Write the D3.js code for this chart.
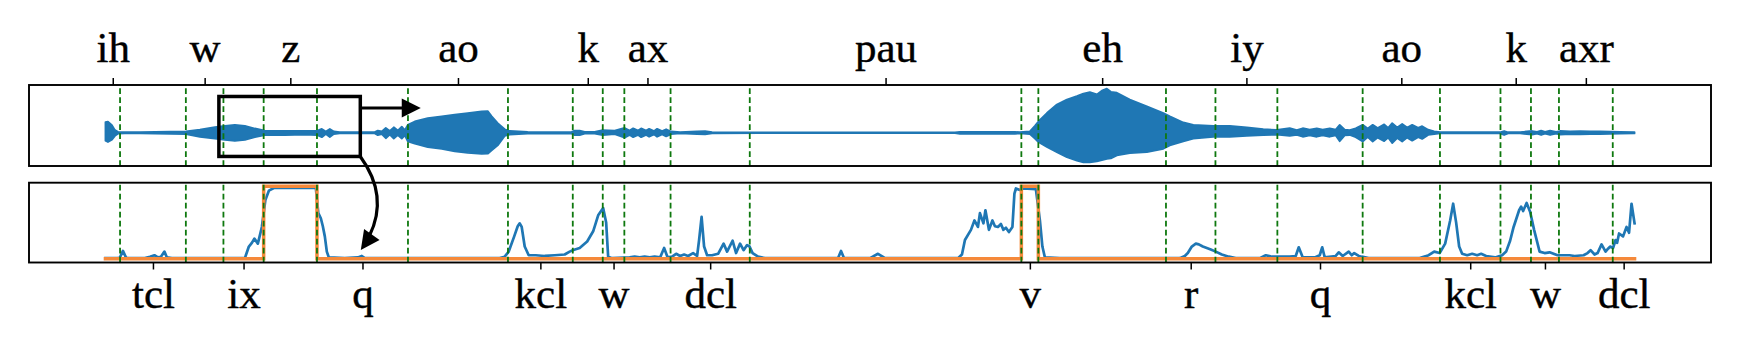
<!DOCTYPE html>
<html>
<head>
<meta charset="utf-8">
<script src="https://d3js.org/d3.v7.min.js"></script>
<style>
  body { margin: 0; background: #fff; }
  svg { display: block; }
</style>
</head>
<body>
<script>
'use strict';

//phone segments, in frames
var phones = ['ih', 'tcl', 'w', 'ix', 'z', 'q', 'ao', 'kcl', 'k', 'w', 'ax', 'dcl',
  'pau', 'v', 'eh', 'r', 'iy', 'q', 'ao', 'kcl', 'k', 'w', 'axr', 'dcl'];
var edges = [0, 2.92, 16.09, 23.61, 31.66, 42.33, 60.54, 80.55, 93.52, 99.52, 103.84,
  113.09, 128.94, 183.29, 186.69, 212.23, 222.13, 234.52, 251.59, 267.06, 279.17,
  285.27, 290.87, 301.64, 306];
var target = [0, 0, 0, 0, 1, 0, 0, 0, 0, 0, 0, 0, 0, 1, 0, 0, 0, 0, 0, 0, 0, 0, 0, 0];

//waveform envelope (upper / lower amplitude)
var wavFrames = [0, 0.5, 1.3, 1.9, 2.5, 3.9, 6.9, 16.1, 18.9, 21.9,
  23.9, 25.9, 27.9, 29.9, 31.9, 35.9, 39.9, 42.3, 43.3, 44.1,
  44.9, 45.7, 46.9, 53.9, 54.5, 55.3, 56.1, 56.9, 57.7, 58.5,
  59.3, 59.9, 60.5, 61.9, 64.5, 67.3, 69.9, 72.5, 75.3, 76.5,
  77.3, 78.5, 79.9, 80.9, 84.5, 90.9, 93.3, 93.9, 94.9, 95.9,
  97.9, 99.5, 101.9, 103.9, 104.9, 105.6, 106.6, 107.2, 108.2, 108.8,
  109.8, 110.4, 111.4, 112.2, 113.2, 115.0, 118.4, 120.0, 121.4, 131.0,
  170.0, 171.0, 182.0, 183.0, 185.0, 186.0, 186.7, 188.4, 190.4, 192.4,
  194.4, 195.7, 197.0, 198.4, 199.4, 200.4, 201.2, 202.4, 205.0, 208.4,
  211.7, 213.0, 215.7, 217.7, 221.7, 225.0, 228.4, 231.7, 234.4, 237.0,
  238.4, 239.6, 241.0, 242.4, 243.6, 245.0, 246.2, 247.0, 248.0, 249.0,
  250.2, 251.6, 252.6, 253.6, 254.6, 255.9, 256.7, 257.5, 258.5, 259.5,
  260.5, 261.5, 262.7, 263.5, 264.7, 265.9, 267.1, 279.1, 279.9, 280.7,
  283.1, 285.5, 286.5, 287.3, 288.1, 289.1, 290.3, 291.1, 293.1, 295.1,
  297.1, 299.1, 301.1, 303.1, 306];
var wavHi = [0.24, 0.253, 0.17, 0.06, 0.02, 0.015, 0.012, 0.03, 0.07, 0.13,
  0.156, 0.18, 0.156, 0.097, 0.05, 0.045, 0.04, 0.045, 0.087, 0.03,
  0.087, 0.03, 0.015, 0.015, 0.05, 0.03, 0.11, 0.04, 0.124, 0.05,
  0.14, 0.06, 0.18, 0.257, 0.333, 0.372, 0.41, 0.448, 0.487, 0.49,
  0.372, 0.218, 0.08, 0.04, 0.02, 0.015, 0.02, 0.05, 0.05, 0.02,
  0.02, 0.06, 0.05, 0.11, 0.05, 0.1, 0.05, 0.1, 0.05, 0.09,
  0.04, 0.09, 0.04, 0.08, 0.03, 0.015, 0.03, 0.035, 0.015, 0.01,
  0.01, 0.022, 0.022, 0.012, 0.03, 0.156, 0.257, 0.448, 0.64, 0.754,
  0.832, 0.89, 0.92, 0.87, 0.955, 1.0, 0.93, 0.908, 0.754, 0.602,
  0.448, 0.372, 0.234, 0.18, 0.156, 0.156, 0.12, 0.08, 0.064, 0.103,
  0.06, 0.103, 0.07, 0.1, 0.07, 0.1, 0.07, 0.18, 0.07, 0.06,
  0.1, 0.18, 0.1, 0.18, 0.11, 0.19, 0.11, 0.218, 0.12, 0.2,
  0.12, 0.18, 0.11, 0.15, 0.07, 0.03, 0.012, 0.012, 0.04, 0.012,
  0.015, 0.04, 0.02, 0.05, 0.02, 0.05, 0.02, 0.04, 0.03, 0.035,
  0.03, 0.03, 0.025, 0.02, 0.015];
var wavLo = [-0.18, -0.21, -0.16, -0.07, -0.02, -0.015, -0.012, -0.03, -0.09, -0.13,
  -0.163, -0.186, -0.163, -0.10, -0.055, -0.05, -0.04, -0.05, -0.10, -0.03,
  -0.095, -0.03, -0.015, -0.015, -0.055, -0.03, -0.124, -0.04, -0.13, -0.05,
  -0.133, -0.06, -0.193, -0.248, -0.324, -0.363, -0.423, -0.455, -0.478, -0.475,
  -0.4, -0.285, -0.07, -0.04, -0.02, -0.015, -0.02, -0.055, -0.055, -0.02,
  -0.02, -0.055, -0.03, -0.11, -0.05, -0.1, -0.05, -0.1, -0.05, -0.09,
  -0.04, -0.09, -0.04, -0.08, -0.03, -0.015, -0.03, -0.035, -0.015, -0.01,
  -0.01, -0.022, -0.022, -0.012, -0.03, -0.133, -0.21, -0.324, -0.44, -0.554,
  -0.63, -0.67, -0.67, -0.65, -0.62, -0.593, -0.58, -0.515, -0.462, -0.44,
  -0.363, -0.285, -0.193, -0.133, -0.094, -0.094, -0.07, -0.055, -0.04, -0.07,
  -0.05, -0.09, -0.06, -0.09, -0.06, -0.09, -0.06, -0.193, -0.06, -0.05,
  -0.1, -0.2, -0.1, -0.2, -0.11, -0.19, -0.11, -0.232, -0.12, -0.2,
  -0.11, -0.18, -0.1, -0.14, -0.05, -0.03, -0.012, -0.012, -0.05, -0.012,
  -0.015, -0.04, -0.02, -0.05, -0.02, -0.05, -0.02, -0.04, -0.03, -0.035,
  -0.03, -0.03, -0.025, -0.02, -0.015];

//attention curve
var attFrames = [0, 2.5, 2.9, 3.5, 4.1, 4.5, 7.9, 8.9, 9.8, 10.5,
  11.1, 11.8, 12.3, 13.3, 27.9, 28.7, 29.3, 29.8, 30.5, 31.3,
  32.0, 32.7, 33.8, 42.1, 42.6, 43.1, 43.5, 43.9, 44.3, 44.7,
  47.9, 50.5, 51.3, 51.9, 78.9, 79.9, 80.7, 81.8, 82.5, 82.9,
  83.3, 83.9, 84.7, 86.1, 87.9, 89.9, 91.9, 92.9, 93.5, 94.9,
  96.4, 97.6, 98.6, 99.6, 100.2, 100.6, 101.4, 104.9, 105.9, 106.9,
  107.9, 108.9, 109.9, 111.0, 111.8, 112.5, 113.4, 114.2, 115.0, 115.8,
  116.6, 117.6, 118.4, 118.8, 119.3, 119.8, 120.4, 121.4, 122.6, 123.7,
  124.4, 125.5, 126.2, 127.0, 127.7, 128.4, 128.9, 129.5, 130.6, 132.0,
  146.6, 147.2, 147.8, 153.0, 154.6, 156.0, 170.6, 171.4, 172.0, 173.2,
  173.9, 174.6, 175.0, 175.7, 176.1, 176.8, 177.5, 178.0, 178.6, 179.2,
  179.7, 180.2, 180.8, 181.5, 181.9, 182.2, 183.0, 183.7, 186.2, 187.0,
  187.5, 188.0, 191.0, 215.0, 216.0, 216.6, 217.4, 218.2, 218.8, 219.6,
  220.4, 221.2, 222.2, 223.4, 224.8, 226.2, 231.0, 232.2, 233.4, 235.2,
  237.0, 238.2, 238.8, 239.6, 242.0, 243.0, 243.5, 244.0, 246.2, 246.8,
  247.6, 248.8, 249.4, 249.9, 250.8, 251.4, 252.8, 263.0, 264.8, 265.9,
  267.0, 268.1, 269.1, 269.7, 270.3, 270.9, 271.5, 272.5, 273.5, 274.5,
  275.3, 276.3, 278.1, 279.5, 280.3, 281.1, 281.8, 282.9, 283.3, 283.7,
  284.4, 285.1, 285.9, 287.0, 288.0, 289.0, 290.6, 293.0, 294.0, 295.8,
  296.6, 297.2, 298.0, 298.6, 299.4, 300.2, 300.7, 301.1, 301.7, 302.2,
  302.5, 302.9, 303.7, 304.4, 304.9, 305.4, 306.0];
var attValues = [0.01, 0.01, 0.02, 0.11, 0.02, 0.01, 0.01, 0.03, 0.05, 0.02,
  0.03, 0.10, 0.02, 0.01, 0.01, 0.17, 0.22, 0.28, 0.21, 0.44,
  0.81, 0.94, 0.98, 0.98, 0.63, 0.56, 0.45, 0.31, 0.10, 0.02,
  0.01, 0.02, 0.04, 0.01, 0.01, 0.03, 0.10, 0.31, 0.45, 0.49,
  0.44, 0.17, 0.05, 0.05, 0.04, 0.05, 0.06, 0.10, 0.12, 0.15,
  0.24, 0.38, 0.60, 0.70, 0.50, 0.03, 0.01, 0.02, 0.03, 0.02,
  0.03, 0.02, 0.03, 0.02, 0.15, 0.02, 0.03, 0.07, 0.04, 0.06,
  0.04, 0.08, 0.04, 0.26, 0.58, 0.17, 0.05, 0.05, 0.07, 0.21,
  0.10, 0.25, 0.08, 0.21, 0.12, 0.19, 0.17, 0.08, 0.03, 0.01,
  0.01, 0.11, 0.01, 0.01, 0.07, 0.01, 0.01, 0.06, 0.26, 0.40,
  0.53, 0.44, 0.63, 0.49, 0.67, 0.40, 0.53, 0.45, 0.44, 0.48,
  0.40, 0.43, 0.37, 0.44, 0.90, 0.97, 0.95, 0.97, 0.96, 0.53,
  0.17, 0.02, 0.01, 0.01, 0.04, 0.08, 0.17, 0.21, 0.20, 0.17,
  0.15, 0.13, 0.10, 0.06, 0.03, 0.01, 0.01, 0.05, 0.03, 0.03,
  0.03, 0.04, 0.16, 0.02, 0.02, 0.05, 0.16, 0.02, 0.04, 0.09,
  0.04, 0.10, 0.05, 0.08, 0.04, 0.03, 0.01, 0.01, 0.05, 0.10,
  0.08, 0.21, 0.53, 0.76, 0.50, 0.17, 0.07, 0.05, 0.07, 0.05,
  0.07, 0.04, 0.02, 0.05, 0.10, 0.25, 0.44, 0.67, 0.72, 0.66,
  0.77, 0.65, 0.40, 0.10, 0.08, 0.09, 0.05, 0.05, 0.04, 0.05,
  0.08, 0.12, 0.06, 0.08, 0.20, 0.10, 0.14, 0.17, 0.15, 0.26,
  0.22, 0.35, 0.31, 0.44, 0.36, 0.76, 0.49];

//zoom box annotation, in data units of the two panels
var zoomBox = { f0: 22.7, f1: 51.0, a0: -0.537, a1: 0.823 };
var arrowRight = { a: 0.562, f: 63.1 };
var arrowDown = { f: 51.1, v: 0.122 };

//general setup
var width = 1738, height = 340;
var left = 29, right = 1711;
var top1 = 85, bot1 = 166, top2 = 182.7, bot2 = 262.5;
var font = '"Liberation Serif", "Times New Roman", serif';
var blue = '#1f77b4', orange = '#f5893a', green = '#0e780e';

var svg = d3.select('body').append('svg').attr('width', width).attr('height', height);

function pad(ext) {
  var p = (ext[1] - ext[0]) * 0.05;
  return [ext[0] - p, ext[1] + p];
}

//scales
var total = edges[edges.length - 1];
var xScale = d3.scaleLinear().domain(pad([0, total])).range([left, right]);
var yWav = d3.scaleLinear().domain(pad([d3.min(wavLo), d3.max(wavHi)])).range([bot1, top1]);
var yAtt = d3.scaleLinear().domain(pad([0, 1])).range([bot2, top2]);

//waveform
var wavArea = d3.area()
  .x(function (i) { return xScale(wavFrames[i]); })
  .y0(function (i) { return yWav(wavLo[i]); })
  .y1(function (i) { return yWav(wavHi[i]); });
svg.append('path').datum(d3.range(wavFrames.length)).attr('d', wavArea)
  .attr('fill', blue).attr('stroke', blue).attr('stroke-width', 1.8)
  .attr('stroke-linejoin', 'round');

//attention line
var attLine = d3.line()
  .x(function (i) { return xScale(attFrames[i]); })
  .y(function (i) { return yAtt(attValues[i]); });
svg.append('path').datum(d3.range(attFrames.length)).attr('d', attLine)
  .attr('fill', 'none').attr('stroke', blue).attr('stroke-width', 2.7)
  .attr('stroke-linejoin', 'round').attr('stroke-linecap', 'square');

//target step
var stepLine = d3.line().curve(d3.curveStepAfter)
  .x(function (d) { return xScale(d[0]); })
  .y(function (d) { return yAtt(d[1]); });
var steps = edges.map(function (e, i) {
  return [e, target[Math.min(i, target.length - 1)]];
});
svg.append('path').datum(steps).attr('d', stepLine)
  .attr('fill', 'none').attr('stroke', orange).attr('stroke-width', 3.5)
  .attr('stroke-linecap', 'square');

//boundaries
var bounds = edges.slice(1, -1);
[[top1, bot1], [top2, bot2]].forEach(function (p) {
  svg.append('g').selectAll('line').data(bounds).enter().append('line')
    .attr('x1', function (d) { return xScale(d); })
    .attr('x2', function (d) { return xScale(d); })
    .attr('y1', p[1]).attr('y2', p[0])
    .attr('stroke', green).attr('stroke-width', 1.8)
    .attr('stroke-dasharray', '5.8,3.2');
});

//panel frames
[[top1, bot1], [top2, bot2]].forEach(function (p) {
  svg.append('rect').attr('x', left).attr('y', p[0])
    .attr('width', right - left).attr('height', p[1] - p[0])
    .attr('fill', 'none').attr('stroke', '#000').attr('stroke-width', 1.9);
});

//phone axes
var mids = phones.map(function (p, i) { return (edges[i] + edges[i + 1]) / 2; });
var topIdx = d3.range(0, phones.length, 2);
var botIdx = d3.range(1, phones.length, 2);

var axTop = svg.append('g').attr('transform', 'translate(0,' + top1 + ')')
  .call(d3.axisTop(xScale).tickSize(7).tickSizeOuter(0)
    .tickValues(topIdx.map(function (i) { return mids[i]; }))
    .tickFormat(function (d, i) { return phones[topIdx[i]]; }));
var axBot = svg.append('g').attr('transform', 'translate(0,' + bot2 + ')')
  .call(d3.axisBottom(xScale).tickSize(7).tickSizeOuter(0)
    .tickValues(botIdx.map(function (i) { return mids[i]; }))
    .tickFormat(function (d, i) { return phones[botIdx[i]]; }));

[[axTop, 61.7 - top1], [axBot, 308.3 - bot2]].forEach(function (a) {
  a[0].select('.domain').remove();
  a[0].attr('font-family', font).attr('font-size', 43);
  a[0].selectAll('.tick line').attr('stroke', '#000').attr('stroke-width', 1.5);
  a[0].selectAll('.tick text').attr('fill', '#000').attr('y', a[1]).attr('dy', null)
    .attr('stroke', '#000').attr('stroke-width', 0.4);
});

//annotation: zoom box and arrows
var ann = svg.append('g');
var bx0 = xScale(zoomBox.f0), bx1 = xScale(zoomBox.f1);
var by0 = yWav(zoomBox.a1), by1 = yWav(zoomBox.a0);
ann.append('rect').attr('x', bx0).attr('y', by0)
  .attr('width', bx1 - bx0).attr('height', by1 - by0)
  .attr('fill', 'none').attr('stroke', '#000').attr('stroke-width', 3.5);

function head(tip, dir, len, half) {
  var n = Math.hypot(dir[0], dir[1]);
  var ux = dir[0] / n, uy = dir[1] / n;
  var bx = tip[0] - ux * len, by = tip[1] - uy * len;
  ann.append('path')
    .attr('d', 'M' + tip[0] + ',' + tip[1] +
      'L' + (bx - uy * half) + ',' + (by + ux * half) +
      'L' + (bx + uy * half) + ',' + (by - ux * half) + 'Z')
    .attr('fill', '#000');
  return [bx, by];
}

//straight arrow
var ay = yWav(arrowRight.a);
var tipR = [xScale(arrowRight.f), ay];
var baseR = head(tipR, [1, 0], 19, 9.5);
ann.append('line').attr('x1', bx1).attr('y1', ay).attr('x2', baseR[0] + 1).attr('y2', ay)
  .attr('stroke', '#000').attr('stroke-width', 3.2);

//curved arrow (arc from the box corner to the lower panel)
var p0 = [bx1, by1];
var p2 = [xScale(arrowDown.f), yAtt(arrowDown.v)];
var rad = 0.36;
var c = [(p0[0] + p2[0]) / 2 + rad * (p2[1] - p0[1]), (p0[1] + p2[1]) / 2 - rad * (p2[0] - p0[0])];
head(p2, [p2[0] - c[0], p2[1] - c[1]], 19, 9.5);
var t = 0.85;
var c1 = [p0[0] + t * (c[0] - p0[0]), p0[1] + t * (c[1] - p0[1])];
var q = [(1 - t) * (1 - t) * p0[0] + 2 * t * (1 - t) * c[0] + t * t * p2[0],
  (1 - t) * (1 - t) * p0[1] + 2 * t * (1 - t) * c[1] + t * t * p2[1]];
ann.append('path')
  .attr('d', 'M' + p0[0] + ',' + p0[1] + 'Q' + c1[0] + ',' + c1[1] + ' ' + q[0] + ',' + q[1])
  .attr('fill', 'none').attr('stroke', '#000').attr('stroke-width', 3.2);
</script>
</body>
</html>
